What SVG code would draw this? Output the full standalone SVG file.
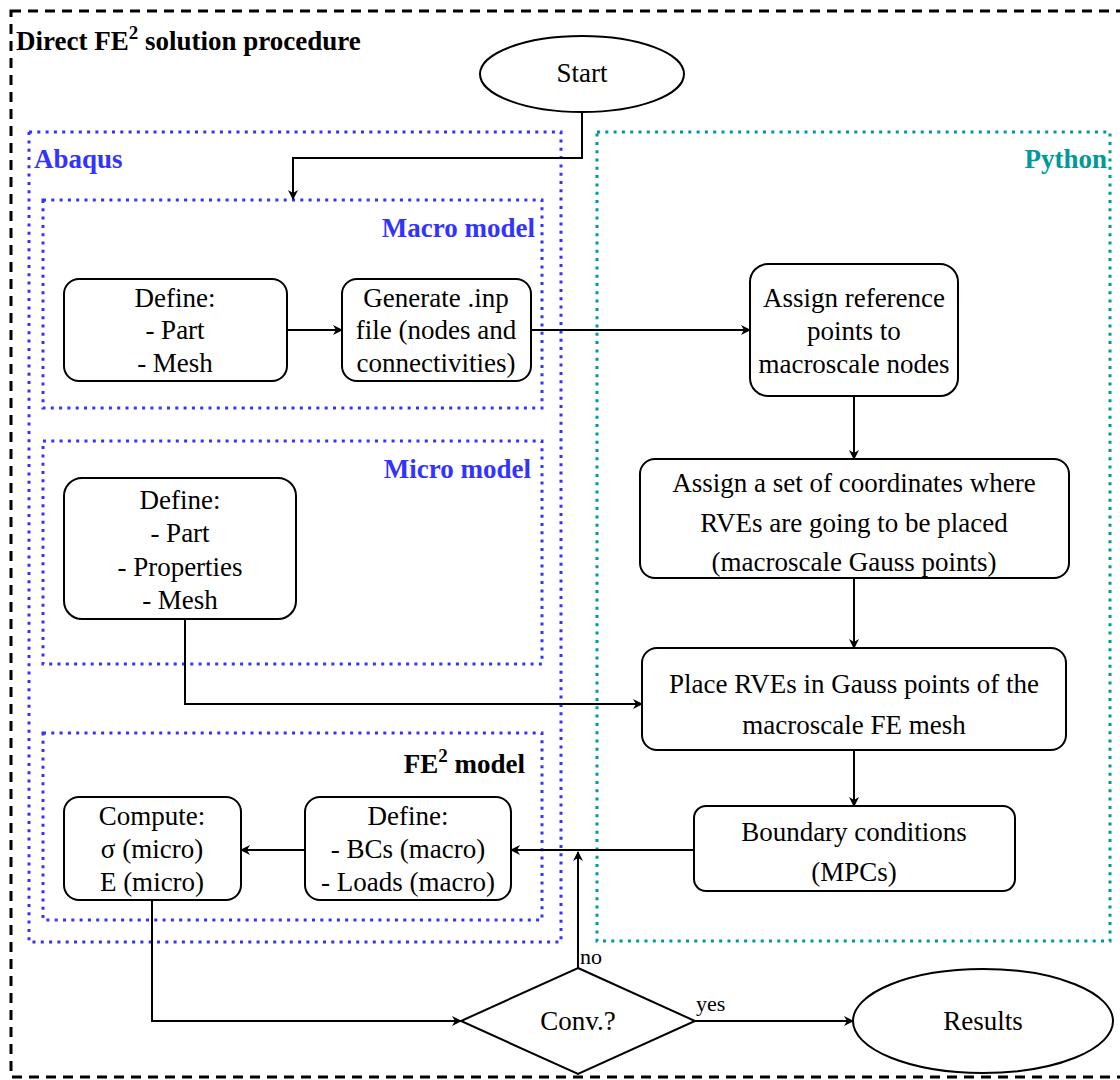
<svg xmlns="http://www.w3.org/2000/svg" width="1120" height="1080" viewBox="0 0 1120 1080">
<defs>
<style>
text{font-family:Tinos,Times,'Nimbus Roman','Liberation Serif','Times New Roman',serif}
.t{font-size:27px;fill:#000;text-anchor:middle}
.b{font-size:27px;font-weight:bold}
.box{fill:#fff;stroke:#000;stroke-width:2}
.blue{fill:none;stroke:#3333FF;stroke-width:3;stroke-dasharray:3 5.3}
.teal{fill:none;stroke:#009999;stroke-width:3;stroke-dasharray:3 5.3}
.ca{fill:none;stroke:#000;stroke-width:2;marker-end:url(#arr)}
.lbl{font-size:22px;fill:#000}
</style>
<marker id="arr" viewBox="0 0 10 10" refX="9" refY="5" markerWidth="10" markerHeight="10" markerUnits="userSpaceOnUse" orient="auto">
<path d="M0,0 L10,5 L0,10 L3,5 z" fill="#000"/>
</marker>
</defs>
<rect width="1120" height="1080" fill="#fff"/>
<g id="outer">
<rect x="11" y="11" width="1130" height="1066" fill="none" stroke="#000" stroke-width="3" stroke-dasharray="10 7"/>
<text class="b" x="16" y="50" fill="#000">Direct FE<tspan dy="-11" font-size="19">2</tspan><tspan dy="11"> solution procedure</tspan></text>
</g>
<g id="abaqus">
<rect class="blue" x="29" y="132" width="532" height="810"/>
<text class="b" x="34" y="168" fill="#3333FF">Abaqus</text>
</g>
<g id="python">
<rect class="teal" x="597" y="132" width="513" height="809"/>
<text class="b" x="1107" y="168" fill="#009999" text-anchor="end">Python</text>
</g>
<g id="macro-model">
<rect class="blue" x="43" y="200" width="499" height="208"/>
<text class="b" x="535" y="237" fill="#3333FF" text-anchor="end">Macro model</text>
</g>
<g id="micro-model">
<rect class="blue" x="43" y="441" width="499" height="223"/>
<text class="b" x="531" y="478" fill="#3333FF" text-anchor="end">Micro model</text>
</g>
<g id="fe2-model">
<rect class="blue" x="43" y="733" width="499" height="187"/>
<text class="b" x="525" y="773" fill="#000" text-anchor="end">FE<tspan dy="-11" font-size="19">2</tspan><tspan dy="11"> model</tspan></text>
</g>
<g id="connectors">
<path class="ca" d="M582,112 V158 H293 V199"/>
<path class="ca" d="M287,330 H342"/>
<path class="ca" d="M531,330 H750"/>
<path class="ca" d="M854,396 V459"/>
<path class="ca" d="M854,578 V648"/>
<path class="ca" d="M185,619 V704 H642"/>
<path class="ca" d="M854,750 V806"/>
<path class="ca" d="M694,850 H511"/>
<path class="ca" d="M305,850 H241"/>
<path class="ca" d="M152,900 V1021 H461"/>
<path class="ca" d="M578,968 V852"/>
<path class="ca" d="M695,1021 H853"/>
<text class="lbl" x="580" y="964">no</text>
<text class="lbl" x="696" y="1011">yes</text>
</g>
<g id="start">
<ellipse class="box" cx="582" cy="74" rx="102" ry="38"/>
<text class="t" x="582" y="82">Start</text>
</g>
<g id="define-macro">
<rect class="box" x="64" y="279" width="223" height="102" rx="15"/>
<text class="t" x="175" y="307">Define:</text>
<text class="t" x="175" y="339">- Part</text>
<text class="t" x="175" y="372">- Mesh</text>
</g>
<g id="generate-inp">
<rect class="box" x="342" y="279" width="189" height="102" rx="15"/>
<text class="t" x="436" y="307">Generate .inp</text>
<text class="t" x="436" y="339">file (nodes and</text>
<text class="t" x="436" y="372">connectivities)</text>
</g>
<g id="assign-ref">
<rect class="box" x="750" y="264" width="208" height="132" rx="18"/>
<text class="t" x="854" y="307">Assign reference</text>
<text class="t" x="854" y="340">points to</text>
<text class="t" x="854" y="373">macroscale nodes</text>
</g>
<g id="assign-coords">
<rect class="box" x="640" y="459" width="429" height="119" rx="15"/>
<text class="t" x="854" y="492">Assign a set of coordinates where</text>
<text class="t" x="854" y="532">RVEs are going to be placed</text>
<text class="t" x="854" y="571">(macroscale Gauss points)</text>
</g>
<g id="define-micro">
<rect class="box" x="64" y="478" width="232" height="141" rx="18"/>
<text class="t" x="180" y="509">Define:</text>
<text class="t" x="180" y="542">- Part</text>
<text class="t" x="180" y="576">- Properties</text>
<text class="t" x="180" y="609">- Mesh</text>
</g>
<g id="place-rves">
<rect class="box" x="642" y="648" width="424" height="102" rx="15"/>
<text class="t" x="854" y="693">Place RVEs in Gauss points of the</text>
<text class="t" x="854" y="734">macroscale FE mesh</text>
</g>
<g id="boundary-conditions">
<rect class="box" x="694" y="806" width="321" height="85" rx="12"/>
<text class="t" x="854" y="841">Boundary conditions</text>
<text class="t" x="854" y="881">(MPCs)</text>
</g>
<g id="define-fe2">
<rect class="box" x="305" y="797" width="206" height="103" rx="15"/>
<text class="t" x="408" y="825">Define:</text>
<text class="t" x="408" y="858">- BCs (macro)</text>
<text class="t" x="408" y="891">- Loads (macro)</text>
</g>
<g id="compute">
<rect class="box" x="64" y="797" width="177" height="103" rx="15"/>
<text class="t" x="152" y="825">Compute:</text>
<text class="t" x="152" y="858">σ (micro)</text>
<text class="t" x="152" y="891">E (micro)</text>
</g>
<g id="conv">
<path class="box" d="M578,968 L695,1021 L578,1074 L461,1021 Z"/>
<text class="t" x="578" y="1030">Conv.?</text>
</g>
<g id="results">
<ellipse class="box" cx="983" cy="1021" rx="130" ry="52"/>
<text class="t" x="983" y="1030">Results</text>
</g>
</svg>
